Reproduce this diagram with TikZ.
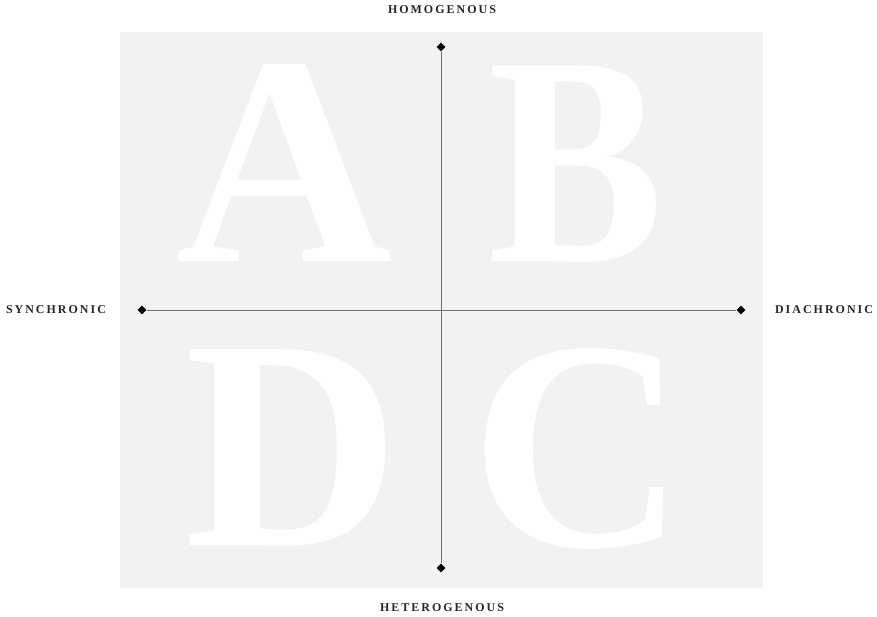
\documentclass[tikz,border=0pt]{standalone}
\usepackage{fontspec}
\setmainfont{Liberation Serif}
\usetikzlibrary{shapes.geometric}
\definecolor{panel-grey}{HTML}{F2F2F2}
\definecolor{axis-grey}{HTML}{6E6E6E}

\begin{document}
\begin{tikzpicture}[x=1bp, y=-1bp,
      every node/.style={inner sep=0pt},
      bigletter/.style={text=white, anchor=base, text depth=0pt,
            font=\fontsize{300}{300}\selectfont\bfseries},
      axislabel/.style={text=black!85,
            font=\fontsize{12}{12}\selectfont\bfseries\addfontfeature{LetterSpace=17}},
      tip/.style={diamond, fill=black, minimum size=9bp}]
    \useasboundingbox (0,0) rectangle (877,617);
    \fill[panel-grey] (120,32) rectangle (763,588);
    % quadrant letters
    \node[bigletter] (qA) at (284,262) {A};
    \node[bigletter, xscale=0.88, transform shape] (qB) at (576,262) {B};
    \node[bigletter] (qD) at (292,545) {D};
    \node[bigletter] (qC) at (578,546) {C};
    % axis end points
    \node[tip] (top) at (441,47) {};
    \node[tip] (bot) at (441,568) {};
    \node[tip] (lft) at (142,310) {};
    \node[tip] (rgt) at (741,310) {};
    \draw[axis-grey, line width=0.7bp] (top) -- (bot);
    \draw[axis-grey, line width=0.7bp] (lft) -- (rgt);
    % axis labels
    \node[axislabel] (homog) at (442,10) {HOMOGENOUS};
    \node[axislabel] (heter) at (442,608) {HETEROGENOUS};
    \node[axislabel] (synch) at (56,310) {SYNCHRONIC};
    \node[axislabel] (diach) at (824,310) {DIACHRONIC};
  \end{tikzpicture}
\end{document}
